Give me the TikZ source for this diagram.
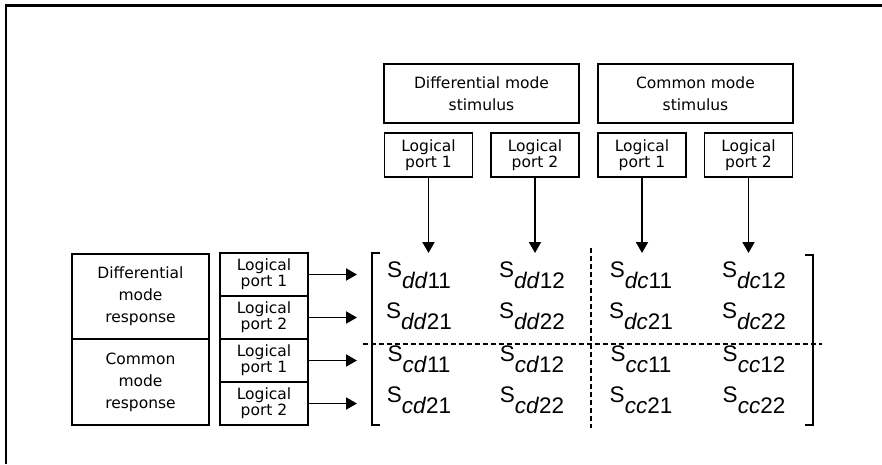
\documentclass[tikz,border=0pt]{standalone}
\usepackage{fontspec}
\setmainfont{DejaVu Sans}
\newfontfamily\entryfont{Liberation Sans}
\usetikzlibrary{arrows.meta}
\newcommand{\Sent}[2]{S\raisebox{-11pt}{\textit{#1}#2}}

\begin{document}
\begin{tikzpicture}[x=1pt, y=-1pt, line width=1.9pt, >={Triangle[length=11pt, width=12pt]},
        modebox/.style={draw, inner sep=0pt, align=center, font=\fontsize{15.5}{22}\selectfont},
        portbox/.style={draw, inner sep=0pt, align=center, font=\fontsize{15.5}{16}\selectfont, minimum width=88pt, minimum height=43pt},
        entry/.style={anchor=base, inner sep=0pt, font=\entryfont\fontsize{22.5}{22}\selectfont},
        divider/.style={line width=1.6pt, dash pattern=on 5pt off 3pt}]
        \useasboundingbox (0,0) rectangle (882,464);
        \def\Ax{428.5} \def\Bx{535} \def\Cx{642} \def\Dx{748.5} \def\Px{264}

        % frame
        \draw[line width=2.2pt] (6,464) -- (6,5.5) -- (882,5.5);

        % stimulus side
        \node[modebox, minimum width=195pt, minimum height=59pt] (DS) at (481.5,93.5) {Differential mode\\stimulus};
        \node[modebox, minimum width=195pt, minimum height=59pt] (CS) at (695.5,93.5) {Common mode\\stimulus};
        \node[portbox, minimum height=44pt] (pd1) at (\Ax,155) {Logical\\port 1};
        \node[portbox, minimum height=44pt] (pd2) at (\Bx,155) {Logical\\port 2};
        \node[portbox, minimum height=44pt] (pc1) at (\Cx,155) {Logical\\port 1};
        \node[portbox, minimum height=44pt] (pc2) at (\Dx,155) {Logical\\port 2};

        % response side
        \node[modebox, minimum width=137pt, minimum height=85pt] (DR) at (140.5,296.5) {Differential\\mode\\response};
        \node[modebox, minimum width=137pt, minimum height=86pt] (CR) at (140.5,382) {Common\\mode\\response};
        \node[portbox] (rd1) at (\Px,274.5) {Logical\\port 1};
        \node[portbox] (rd2) at (\Px,317.5) {Logical\\port 2};
        \node[portbox] (rc1) at (\Px,360.5) {Logical\\port 1};
        \node[portbox] (rc2) at (\Px,403.5) {Logical\\port 2};

        \coordinate (mtop) at (0,253);
        \coordinate (mleft) at (357,0);

        % matrix
        \draw[line width=2pt] (380,253) -- (372,253) -- (372,425) -- (380,425);
        \draw[line width=2pt] (805,255) -- (813,255) -- (813,425) -- (805,425);
        \foreach \y/\t/\i in {277/d/1, 318/d/2, 361/c/1, 402/c/2}
            \foreach \x/\s/\j in {419/d/1, 532/d/2, 641/c/1, 754/c/2}
                \node[entry] (s\t\s\i\j) at (\x,\y) {\Sent{\t\s}{\i\j}};
        \draw[divider] (363,344) -- (822,344);
        \draw[divider] (591,248) -- (591,428);

        % arrows
        \foreach \p in {pd1, pd2, pc1, pc2}
            \draw[->] (\p.south) -- (\p.south |- mtop);
        \foreach \p in {rd1, rd2, rc1, rc2}
            \draw[->] (\p.east) -- (\p.east -| mleft);
\end{tikzpicture}
\end{document}
